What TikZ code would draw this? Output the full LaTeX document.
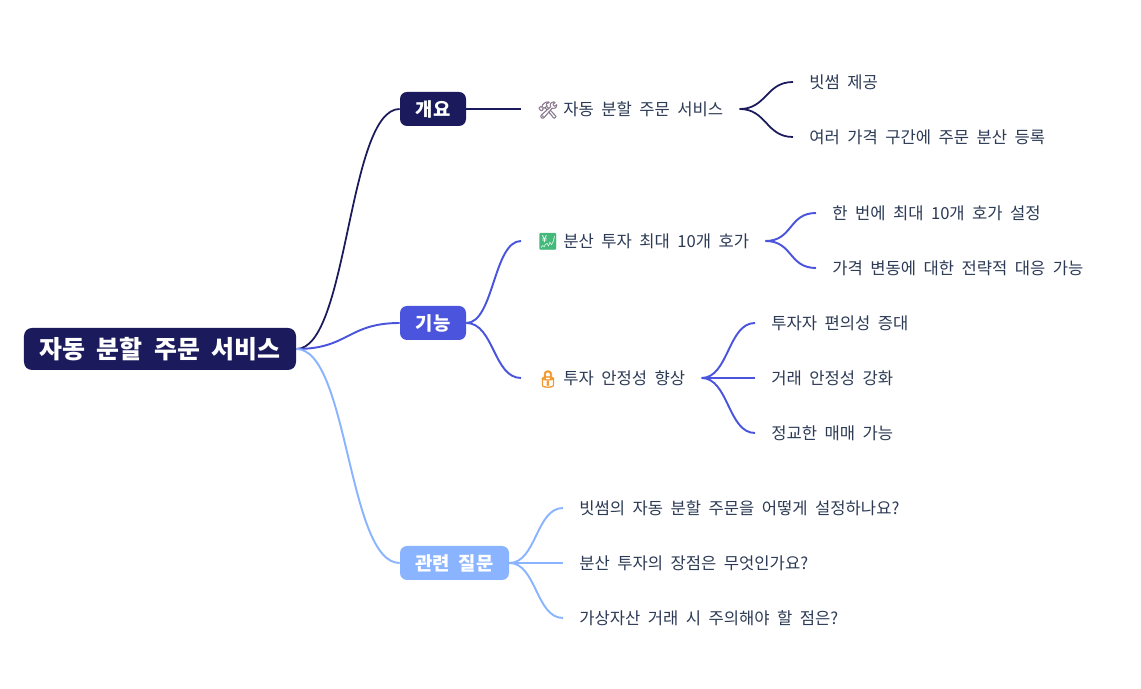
\documentclass[tikz,border=0pt]{standalone}
\usepackage{fontspec}
\setmainfont[WordSpace=2]{Noto Sans CJK KR}
\newfontfamily\emojifont[FakeBold=1.6]{Noto Emoji}
\newfontfamily\emojiheavy[FakeBold=3.5]{Noto Emoji}
\newfontfamily\emojiplain{Noto Emoji}
\usepackage{xcolor}
\definecolor{mapnavy}{HTML}{1A1A5C}
\definecolor{mapblue}{HTML}{4A54DC}
\definecolor{mapsky}{HTML}{8AB4FF}
\definecolor{leafink}{HTML}{2C3A55}
\definecolor{toolgray}{HTML}{8A7A90}
\definecolor{chartgreen}{HTML}{45B97C}
\definecolor{lockorange}{HTML}{F09A30}

\begin{document}
\begin{tikzpicture}[
      every node/.style={font=\fontsize{9.45}{11}\selectfont},
      rootbox/.style={fill=mapnavy, text=white, rounded corners=0.16cm, minimum width=5.44cm, minimum height=0.84cm, inner sep=0pt, text height=0.5cm, text depth=0.12cm, font=\fontsize{14.2}{16}\selectfont\bfseries},
      branchbox/.style={text=white, rounded corners=0.14cm, minimum width=1.32cm, minimum height=0.68cm, inner sep=0pt, text height=0.4cm, text depth=0.08cm, font=\fontsize{10.7}{12}\selectfont\bfseries},
      leafnode/.style={anchor=west, text=leafink, inner xsep=0.32cm, inner ysep=0pt, text height=0.34cm, text depth=0.07cm},
      linknavy/.style={draw=mapnavy, line width=1pt},
      linkblue/.style={draw=mapblue, line width=1.1pt},
      linksky/.style={draw=mapsky, line width=1.1pt},
    ]
    \useasboundingbox (0,0) rectangle (22.82,-13.78);

    % Root
    \node[rootbox] (root) at (3.2,-6.98) {자동 분할 주문 서비스};

    % Branches
    \node[branchbox, fill=mapnavy] (overview) at (8.66,-2.18) {개요};
    \node[branchbox, fill=mapblue] (feature) at (8.66,-6.46) {기능};
    \node[branchbox, fill=mapsky, minimum width=2.18cm] (related) at (9.09,-11.26) {관련 질문};

    % Overview
    \node[leafnode] (service) at (10.42,-2.18) {{\emojifont\color{toolgray}🛠}\hspace{0.1cm}자동 분할 주문 서비스};
    \node[leafnode] (bithumb) at (15.86,-1.64) {빗썸 제공};
    \node[leafnode] (spread) at (15.86,-2.74) {여러 가격 구간에 주문 분산 등록};

    % Feature
    \node[leafnode] (invest) at (10.42,-4.82) {{\emojiplain\color{chartgreen}💹}\hspace{0.1cm}분산 투자 최대 10개 호가};
    \node[leafnode] (once) at (16.32,-4.26) {한 번에 최대 10개 호가 설정};
    \node[leafnode] (respond) at (16.32,-5.36) {가격 변동에 대한 전략적 대응 가능};
    \node[leafnode] (stable) at (10.42,-7.56) {{\emojiheavy\color{lockorange}🔒}\hspace{0.1cm}투자 안정성 향상};
    \node[leafnode] (conv) at (15.10,-6.46) {투자자 편의성 증대};
    \node[leafnode] (trade) at (15.10,-7.56) {거래 안정성 강화};
    \node[leafnode] (fine) at (15.10,-8.66) {정교한 매매 가능};

    % Related questions
    \node[leafnode] (qone) at (11.26,-10.16) {빗썸의 자동 분할 주문을 어떻게 설정하나요?};
    \node[leafnode] (qtwo) at (11.26,-11.26) {분산 투자의 장점은 무엇인가요?};
    \node[leafnode] (qthree) at (11.26,-12.36) {가상자산 거래 시 주의해야 할 점은?};

    % Links
    \draw[linknavy] (root.east) .. controls +(1.04,0) and +(-1.04,0) .. (overview.west);
    \draw[linkblue] (root.east) .. controls +(1.04,0) and +(-1.04,0) .. (feature.west);
    \draw[linksky] (root.east) .. controls +(1.04,0) and +(-1.04,0) .. (related.west);

    \draw[linknavy] (overview.east) -- (service.west);
    \foreach \leaf in {bithumb, spread}
      \draw[linknavy] (service.east) .. controls +(0.54,0) and +(-0.54,0) .. (\leaf.west);

    \foreach \leaf in {invest, stable}
      \draw[linkblue] (feature.east) .. controls +(0.55,0) and +(-0.55,0) .. (\leaf.west);
    \foreach \leaf in {once, respond}
      \draw[linkblue] (invest.east) .. controls +(0.55,0) and +(-0.55,0) .. (\leaf.west);
    \foreach \leaf in {conv, trade, fine}
      \draw[linkblue] (stable.east) .. controls +(0.54,0) and +(-0.54,0) .. (\leaf.west);

    \foreach \leaf in {qone, qtwo, qthree}
      \draw[linksky] (related.east) .. controls +(0.54,0) and +(-0.54,0) .. (\leaf.west);
  \end{tikzpicture}
\end{document}
